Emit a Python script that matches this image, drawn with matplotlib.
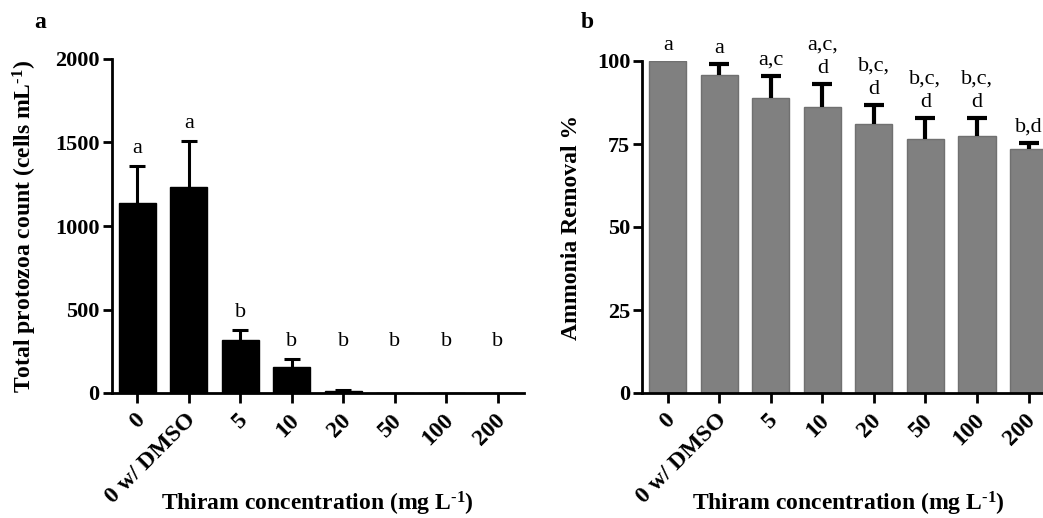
import numpy as np
import matplotlib
matplotlib.use('Agg')
import matplotlib.pyplot as plt
from matplotlib.transforms import ScaledTranslation

# Thiram doses tested
conc_labels = ['0', '0 w/ DMSO', '5', '10', '20', '50', '100', '200']

# a: protozoa counts (mean and upper SEM)
protozoa_mean = [1135, 1232, 317, 154, 12, 0, 0, 0]
protozoa_sem = [222, 275, 60, 48, 6, 0, 0, 0]
protozoa_groups = ['a', 'a', 'b', 'b', 'b', 'b', 'b', 'b']

# b: ammonia removal (%)
ammonia_mean = [100, 95.9, 89.0, 86.2, 80.9, 76.4, 77.4, 73.4]
ammonia_sem = [0, 3.1, 6.6, 6.8, 5.8, 6.5, 5.3, 2.0]
ammonia_groups = ['a', 'a', 'a,c', 'a,c,\nd', 'b,c,\nd', 'b,c,\nd', 'b,c,\nd', 'b,d']

plt.rcParams['font.family'] = 'Liberation Serif'
plt.rcParams['mathtext.fontset'] = 'custom'
plt.rcParams['mathtext.rm'] = 'Liberation Serif:bold'
plt.rcParams['mathtext.bf'] = 'Liberation Serif:bold'
plt.rcParams['mathtext.default'] = 'rm'

xlabel = r'Thiram concentration (mg L$^{\text{-1}}$)'


def draw_panel(ax, mean, sem, groups, color, edge, ylim, yticks, ylabel,
               ylabel_x, cap, elw, letter_pad, letter_floor=0):
    x = np.arange(len(mean))
    mean = np.asarray(mean, dtype=float)
    sem = np.asarray(sem, dtype=float)
    ax.bar(x, mean, width=0.72, color=color, edgecolor=edge, linewidth=1, zorder=2)

    # upper error only, no cap at the bar top
    has_err = sem > 0
    _, caps, _ = ax.errorbar(x[has_err], mean[has_err],
                             yerr=[np.zeros(has_err.sum()), sem[has_err]],
                             fmt='none', ecolor='black', elinewidth=elw,
                             capsize=cap, capthick=elw, zorder=3)
    caps[0].set_visible(False)

    tops = np.maximum(mean + sem, letter_floor)
    for xi, top, g in zip(x, tops, groups):
        ax.annotate(g, (xi, top), xytext=(0, letter_pad), textcoords='offset points',
                    ha='center', va='bottom', fontsize=16, linespacing=1.3,
                    annotation_clip=False)

    ax.set_xlim(-0.5, len(mean) - 0.5)
    ax.set_ylim(*ylim)
    ax.set_yticks(yticks)
    ax.set_xticks(x)
    for s in ['top', 'right']:
        ax.spines[s].set_visible(False)
    for s in ['left', 'bottom']:
        ax.spines[s].set_linewidth(2)
    ax.tick_params(axis='y', length=6.5, width=2, pad=2)
    ax.tick_params(axis='x', length=7, width=2, pad=6)
    ax.set_xticklabels(conc_labels, rotation=45, ha='right', va='center',
                       rotation_mode='anchor', fontsize=17, fontweight='bold')
    # nudge the slanted labels a little right and down
    shift = ScaledTranslation(4 / 100, -6 / 100, fig.dpi_scale_trans)
    for t in ax.get_xticklabels():
        t.set_transform(t.get_transform() + shift)
    for t in ax.get_yticklabels():
        t.set_fontsize(16)
        t.set_fontweight('bold')

    ax.set_ylabel(ylabel, fontsize=17, fontweight='bold')
    ax.yaxis.set_label_coords(ylabel_x, 0.5)
    ax.yaxis.label.set_va('center')
    ax.set_xlabel(xlabel, fontsize=17, fontweight='bold')
    ax.xaxis.set_label_coords(0.5, -0.353)
    ax.xaxis.label.set_va('baseline')


fig = plt.figure(figsize=(10.43, 5.18), dpi=100)
W, H = 1043, 518
ax_a = fig.add_axes([111.5 / W, 125 / H, 412.3 / W, 334 / H])
ax_b = fig.add_axes([642 / W, 125 / H, 412.3 / W, 332 / H])

draw_panel(ax_a, protozoa_mean, protozoa_sem, protozoa_groups, 'black', 'black',
           (0, 2000), [0, 500, 1000, 1500, 2000],
           r'Total protozoa count (cells mL$^{\text{-1}}$)', -0.21,
           cap=5.5, elw=2.2, letter_pad=6, letter_floor=200)
draw_panel(ax_b, ammonia_mean, ammonia_sem, ammonia_groups, '#808080', '#707070',
           (0, 100), [0, 25, 50, 75, 100], 'Ammonia Removal %', -0.17,
           cap=7, elw=3, letter_pad=4.5)

fig.text(40 / W, 1 - 22 / H, 'a', fontsize=17, fontweight='bold', ha='center', va='center')
fig.text(587 / W, 1 - 22 / H, 'b', fontsize=17, fontweight='bold', ha='center', va='center')

fig.savefig('out.png', dpi=100)
